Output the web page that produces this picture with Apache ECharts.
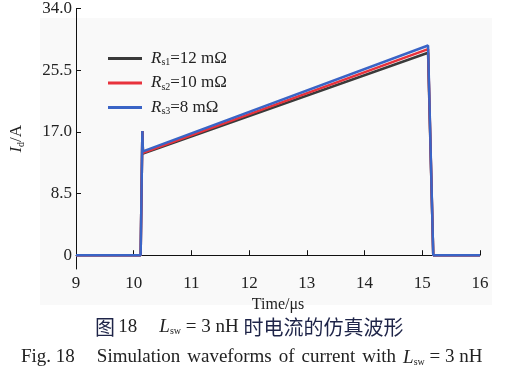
<!DOCTYPE html>
<html>
<head>
<meta charset="utf-8">
<script src="https://cdn.jsdelivr.net/npm/echarts@6/dist/echarts.min.js"></script>
<style>
html, body { margin: 0; padding: 0; background: #fff; }
#chart { width: 514px; height: 375px; }
</style>
</head>
<body>
<div id="chart"></div>
<script>
// time axis (us) and current values (A)
var time   = [9, 10.12, 10.15, 10.16, 15.10, 15.19, 16];
var idRs1  = [0, 0, 17.1, 14.0, 27.9, 0, 0];
var idRs2  = [0, 0, 17.1, 14.1, 28.4, 0, 0];
var idRs3  = [0, 0, 17.1, 14.3, 28.9, 0, 0];
var names  = ['Rs1', 'Rs2', 'Rs3'];
var legendText = { Rs1: ['s1', '=12 mΩ'], Rs2: ['s2', '=10 mΩ'], Rs3: ['s3', '=8 mΩ'] };
var yTicks = [0, 8.5, 17, 25.5, 34];
var captionWords = ['Simulation', 'waveforms', 'of', 'current', 'with'];

function pairs(ys) {
  return time.map(function (t, i) { return [t, ys[i]]; });
}

var serif = '"Liberation Serif", "Times New Roman", serif';
var chart = echarts.init(document.getElementById('chart'));

var enCaption = '{n|Fig. 18}{g2| }' +
  captionWords.map(function (w) { return '{n|' + w + '}'; }).join('{g| }') +
  '{g| }{i|L}{s|sw}{n| = 3 nH}';

var option = {
  animation: false,
  textStyle: { fontFamily: serif },
  grid: { left: 76, right: 34, top: 7, bottom: 106 },
  graphic: [
    {
      type: 'rect', z: -10,
      shape: { x: 40, y: 18, width: 452, height: 287 },
      style: { fill: '#f9f9f9' }
    },
    {
      type: 'text', left: 95, top: 317,
      style: {
        text: '{c|图} {n|18}{g| }{i|L}{s|sw}{n| = 3 nH }{c|时电流的仿真波形}',
        rich: {
          c: { fontFamily: '"Noto Sans CJK SC"', fontSize: 20, fill: '#1e2448' },
          n: { fontFamily: serif, fontSize: 19, fill: '#222' },
          i: { fontFamily: serif, fontSize: 19, fontStyle: 'italic', fill: '#222' },
          s: { fontFamily: serif, fontSize: 10, fill: '#222', padding: [9, 0, 0, 0] },
          g: { width: 22 }
        }
      }
    },
    {
      type: 'text', left: 21, top: 348,
      style: {
        text: enCaption,
        rich: {
          n: { fontFamily: serif, fontSize: 19, fill: '#222' },
          i: { fontFamily: serif, fontSize: 19, fontStyle: 'italic', fill: '#222' },
          s: { fontFamily: serif, fontSize: 10, fill: '#222', padding: [9, 0, 0, 0] },
          g: { width: 7 },
          g2: { width: 22 }
        }
      }
    }
  ],
  legend: {
    orient: 'vertical',
    left: 103, top: 45,
    itemWidth: 34, itemHeight: 3, itemGap: 7,
    icon: 'rect',
    data: names,
    formatter: function (name) {
      var t = legendText[name];
      return '{i|R}{s|' + t[0] + '}{n|' + t[1] + '}';
    },
    textStyle: {
      padding: [0, 0, 0, 4],
      rich: {
        i: { fontFamily: serif, fontSize: 17, fontStyle: 'italic', color: '#222' },
        s: { fontFamily: serif, fontSize: 10, color: '#222', padding: [8, 0, 0, 0] },
        n: { fontFamily: serif, fontSize: 17, color: '#222' }
      }
    }
  },
  xAxis: {
    type: 'value',
    min: 9, max: 16, interval: 1,
    name: 'Time/μs',
    nameLocation: 'middle',
    nameGap: 24,
    nameTextStyle: { fontFamily: serif, fontSize: 16, color: '#222' },
    axisLine: { lineStyle: { color: '#111', width: 1 } },
    axisTick: { inside: true, length: 5, lineStyle: { color: '#111' } },
    axisLabel: { fontFamily: serif, fontSize: 17, color: '#222', margin: 6 },
    splitLine: { show: false }
  },
  yAxis: {
    type: 'value',
    min: -1.9, max: 34,
    name: '{i|I}{s|d}{n|/A}',
    nameLocation: 'middle',
    nameGap: 50,
    nameTextStyle: {
      rich: {
        i: { fontFamily: serif, fontSize: 17, fontStyle: 'italic', color: '#222' },
        s: { fontFamily: serif, fontSize: 10, color: '#222', padding: [8, 0, 0, 0] },
        n: { fontFamily: serif, fontSize: 17, color: '#222' }
      }
    },
    axisLine: { show: true, lineStyle: { color: '#111', width: 1 } },
    axisTick: { show: true, inside: true, length: 5, customValues: yTicks, lineStyle: { color: '#111' } },
    axisLabel: {
      fontFamily: serif, fontSize: 17, color: '#222', margin: 4,
      customValues: yTicks,
      formatter: function (v) { return v === 0 ? '0' : v.toFixed(1); }
    },
    splitLine: { show: false }
  },
  series: [
    { name: 'Rs1', type: 'line', data: pairs(idRs1), showSymbol: false, color: '#3a3a3a', lineStyle: { width: 2.5 } },
    { name: 'Rs2', type: 'line', data: pairs(idRs2), showSymbol: false, color: '#e8323c', lineStyle: { width: 2.5 } },
    { name: 'Rs3', type: 'line', data: pairs(idRs3), showSymbol: false, color: '#3a64c6', lineStyle: { width: 2.5 } }
  ]
};

chart.setOption(option);
</script>
</body>
</html>
